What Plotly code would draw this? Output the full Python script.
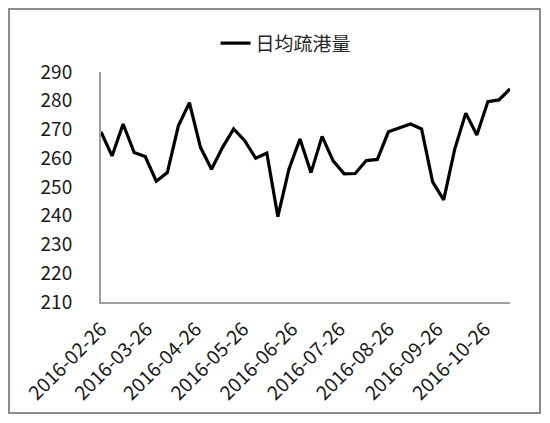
import plotly.graph_objects as go

dates = ["2016-02-26", "2016-03-04", "2016-03-11", "2016-03-18", "2016-03-25",
         "2016-04-01", "2016-04-08", "2016-04-15", "2016-04-22", "2016-04-29",
         "2016-05-06", "2016-05-13", "2016-05-20", "2016-05-27", "2016-06-03",
         "2016-06-10", "2016-06-17", "2016-06-24", "2016-07-01", "2016-07-08",
         "2016-07-15", "2016-07-22", "2016-07-29", "2016-08-05", "2016-08-12",
         "2016-08-19", "2016-08-26", "2016-09-02", "2016-09-09", "2016-09-16",
         "2016-09-23", "2016-09-30", "2016-10-07", "2016-10-14", "2016-10-21",
         "2016-10-28", "2016-11-04", "2016-11-11"]
values = [269.2, 260.8, 271.9, 262.0, 260.6, 252.0, 255.0, 271.3, 279.3, 263.8,
          256.2, 263.8, 270.2, 266.1, 260.0, 261.8, 239.7, 256.2, 266.7, 255.0,
          267.6, 259.1, 254.6, 254.7, 259.2, 259.6, 269.2, 270.5, 271.9, 270.2,
          251.8, 245.5, 263.2, 275.7, 268.1, 279.7, 280.3, 284.1]
series_name = "日均疏港量"
tick_dates = ["2016-02-26", "2016-03-26", "2016-04-26", "2016-05-26", "2016-06-26",
              "2016-07-26", "2016-08-26", "2016-09-26", "2016-10-26"]
y_ticks = [210, 220, 230, 240, 250, 260, 270, 280, 290]

FONT = "Noto Sans CJK SC"

fig = go.Figure()
fig.add_trace(go.Scatter(
    x=dates, y=values, mode="lines", name=series_name,
    line=dict(color="#000000", width=3.2),
))

fig.update_layout(
    width=550, height=423,
    margin=dict(l=101, r=40, t=72, b=121, autoexpand=False),
    paper_bgcolor="white", plot_bgcolor="white",
    font=dict(family=FONT, color="#1a1a1a", size=17),
    showlegend=True,
    legend=dict(orientation="h", x=0.28, xanchor="left", y=1.125, yanchor="middle",
                font=dict(size=19, family=FONT, color="#262626"),
                bgcolor="rgba(0,0,0,0)"),
    xaxis=dict(
        type="date", range=[dates[0], dates[-1]],
        tickvals=tick_dates, ticktext=tick_dates, tickangle=-45,
        showgrid=False, zeroline=False, automargin=False,
        showline=True, linecolor="#a0a0a0", linewidth=2,
        ticks="", ticklabelstandoff=6,
        tickfont=dict(size=19.5, family=FONT, color="#1a1a1a"),
    ),
    yaxis=dict(
        range=[210, 290], tickvals=y_ticks, ticktext=[str(v) for v in y_ticks],
        showgrid=False, zeroline=False, automargin=False,
        showline=True, linecolor="#a0a0a0", linewidth=2,
        ticks="", ticklabelstandoff=23,
        tickfont=dict(size=19, family=FONT, color="#1a1a1a"),
    ),
    shapes=[dict(type="rect", xref="paper", yref="paper",
                 x0=-0.2249, x1=1.0733, y0=-0.4826, y1=1.2739,
                 line=dict(color="#8c8c8c", width=2), fillcolor="rgba(0,0,0,0)")],
)

fig.write_html("out.html", config={"displayModeBar": False},
               post_script="document.body.style.margin='0';")
